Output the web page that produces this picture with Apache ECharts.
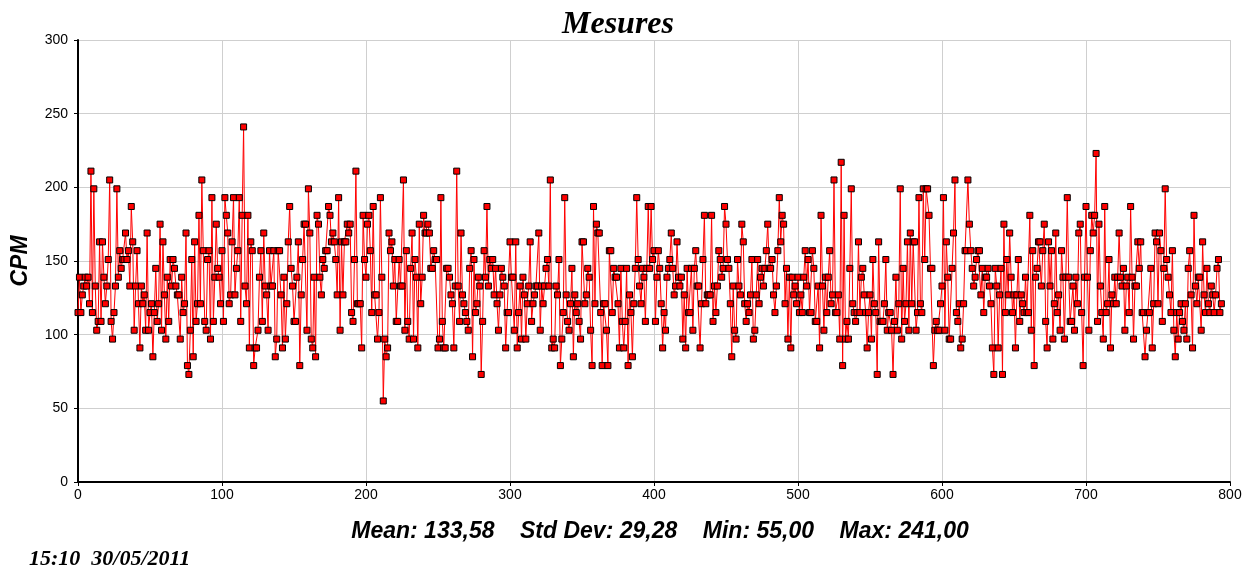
<!DOCTYPE html>
<html>
<head>
<meta charset="utf-8">
<script src="https://cdn.jsdelivr.net/npm/echarts@6/dist/echarts.min.js"></script>
<style>
html,body{margin:0;padding:0;background:#fff;}
#chart{width:1258px;height:569px;}
</style>
</head>
<body>
<div id="chart"></div>
<script>
const chartTitle = 'Mesures';
const yAxisName = 'CPM';
const statsText = 'Mean: 133,58    Std Dev: 29,28    Min: 55,00    Max: 241,00';
const stampText = '15:10  30/05/2011';
const xTicks = [0, 100, 200, 300, 400, 500, 600, 700, 800];
const yTicks = [0, 50, 100, 150, 200, 250, 300];

const cpmValues = [
115,139,115,127,133,139,133,139,121,211,
115,199,133,103,109,163,109,163,139,121,
133,151,205,109,97,115,133,199,139,157,
145,151,151,169,151,157,133,187,163,103,
133,157,121,91,133,121,127,103,169,103,
115,121,85,115,145,109,121,175,103,163,
127,97,139,109,151,133,151,145,133,127,
127,97,139,115,121,169,79,73,103,151,
85,163,109,121,181,121,205,157,109,103,
151,157,97,193,109,139,175,145,139,121,
157,109,193,181,169,121,127,163,193,127,
145,157,193,109,181,241,133,121,181,91,
163,157,79,91,91,103,139,157,109,169,
133,127,103,157,133,133,157,85,97,157,
157,127,91,139,97,121,163,187,145,133,
109,109,139,163,79,127,151,175,175,103,
199,169,97,91,139,85,181,175,139,127,
151,145,157,157,187,181,163,169,163,151,
127,193,103,163,127,163,163,175,169,175,
115,109,151,211,121,121,121,91,181,151,
139,175,181,157,115,187,127,127,97,115,
193,139,55,97,85,91,169,157,163,133,
151,109,109,151,133,133,205,103,157,109,
97,145,169,97,151,139,91,175,121,139,
181,169,169,175,169,145,145,157,151,151,
91,97,193,109,91,91,145,145,139,127,
121,91,133,211,133,109,169,127,121,115,
109,103,145,157,85,151,115,121,139,133,
73,109,157,139,187,133,151,145,151,127,
145,121,103,127,145,139,133,91,115,115,
163,139,139,103,163,91,115,133,97,139,
127,97,121,133,163,109,121,127,133,133,
169,103,133,121,133,145,151,133,205,91,
97,91,133,127,151,79,97,115,193,127,
109,103,121,145,85,127,115,121,109,97,
163,163,121,127,145,139,103,79,187,121,
175,169,169,115,79,121,121,103,79,157,
157,115,145,139,139,121,91,145,109,91,
109,145,79,127,115,85,121,145,193,151,
133,121,145,139,109,145,187,145,187,151,
157,109,139,157,145,121,91,115,103,139,
145,151,169,145,127,133,163,139,133,139,
97,127,91,145,115,115,145,103,145,157,
133,133,91,121,151,181,121,127,127,127,
181,109,133,115,133,157,151,139,145,187,
175,151,145,121,85,133,103,97,151,133,
127,175,163,121,109,121,115,127,151,97,
103,127,151,121,139,145,133,145,157,175,
145,145,151,127,115,133,157,193,163,181,
175,121,145,97,139,91,139,127,133,121,
139,115,127,115,139,157,133,151,115,115,
157,145,109,109,133,91,181,133,103,139,
115,139,157,121,127,205,115,115,127,97,
217,79,181,97,109,97,145,199,121,115,
109,115,163,115,139,145,127,115,91,115,
127,97,151,121,115,73,163,109,109,109,
121,151,103,115,115,103,73,109,139,103,
121,199,97,145,109,121,163,103,169,121,
163,163,103,115,193,121,115,199,151,199,
199,181,145,145,79,103,109,103,103,121,
133,193,103,163,139,97,97,145,169,205,
115,109,121,91,97,121,157,157,205,175,
157,145,133,139,151,157,157,127,145,115,
139,139,145,133,121,91,73,145,133,91,
127,145,73,175,115,151,127,169,139,115,
127,91,127,151,109,127,121,115,139,115,
115,181,103,157,79,139,145,163,163,133,
157,175,109,91,163,133,157,97,121,169,
115,127,103,157,139,97,139,193,139,109,
109,133,103,139,121,169,175,115,79,139,
187,139,103,157,181,169,181,223,109,175,
133,115,97,187,115,121,151,91,127,121,
139,121,139,169,139,133,145,103,133,139,
115,187,139,97,133,133,163,145,163,115,
115,85,103,115,115,145,91,121,169,163,
121,169,157,109,145,199,151,139,127,115,
157,103,85,115,97,115,121,109,103,121,
97,145,157,127,91,181,133,121,139,139,
103,163,127,115,145,121,115,133,127,115,
127,145,151,115,121
];

const seriesData = cpmValues.map((v, i) => [i, v]);

const chart = echarts.init(document.getElementById('chart'), null, {renderer: 'canvas'});
chart.setOption({
  backgroundColor: '#ffffff',
  animation: false,
  title: [
    {
      text: chartTitle,
      left: 613,
      textAlign: 'center',
      top: 4,
      textStyle: {fontFamily: 'Liberation Serif', fontStyle: 'italic', fontWeight: 'bold', fontSize: 32, color: '#000'}
    },
    {
      text: statsText,
      left: 655,
      textAlign: 'center',
      top: 515,
      textStyle: {fontFamily: 'Liberation Sans', fontStyle: 'italic', fontWeight: 'bold', fontSize: 23, color: '#000'}
    },
    {
      text: stampText,
      left: 24,
      top: 543,
      textStyle: {fontFamily: 'Liberation Serif', fontStyle: 'italic', fontWeight: 'bold', fontSize: 22, color: '#000'}
    }
  ],
  grid: {left: 78, right: 28, top: 40, bottom: 87, containLabel: false},
  xAxis: {
    type: 'value',
    min: xTicks[0],
    max: xTicks[xTicks.length - 1],
    interval: 100,
    axisLine: {show: true, onZero: false, lineStyle: {color: '#000', width: 2}},
    axisTick: {show: true, length: 4, lineStyle: {color: '#000'}},
    axisLabel: {color: '#000', fontFamily: 'Liberation Sans', fontSize: 14, margin: 6},
    splitLine: {show: true, lineStyle: {color: '#cfcfcf', width: 1}}
  },
  yAxis: {
    type: 'value',
    min: yTicks[0],
    max: yTicks[yTicks.length - 1],
    interval: 50,
    name: yAxisName,
    nameLocation: 'middle',
    nameRotate: 90,
    nameGap: 46,
    nameTextStyle: {fontFamily: 'Liberation Sans', fontStyle: 'italic', fontWeight: 'bold', fontSize: 23, color: '#000'},
    axisLine: {show: true, onZero: false, lineStyle: {color: '#000', width: 2}},
    axisTick: {show: true, length: 4, lineStyle: {color: '#000'}},
    axisLabel: {color: '#000', fontFamily: 'Liberation Sans', fontSize: 14, margin: 10},
    splitLine: {show: true, lineStyle: {color: '#cfcfcf', width: 1}}
  },
  series: [{
    type: 'line',
    data: seriesData,
    symbol: 'rect',
    symbolSize: 6,
    showAllSymbol: true,
    lineStyle: {color: '#ff0000', width: 1},
    itemStyle: {color: '#ff0000', borderColor: '#000', borderWidth: 1},
    emphasis: {disabled: true}
  }]
});
</script>
</body>
</html>
